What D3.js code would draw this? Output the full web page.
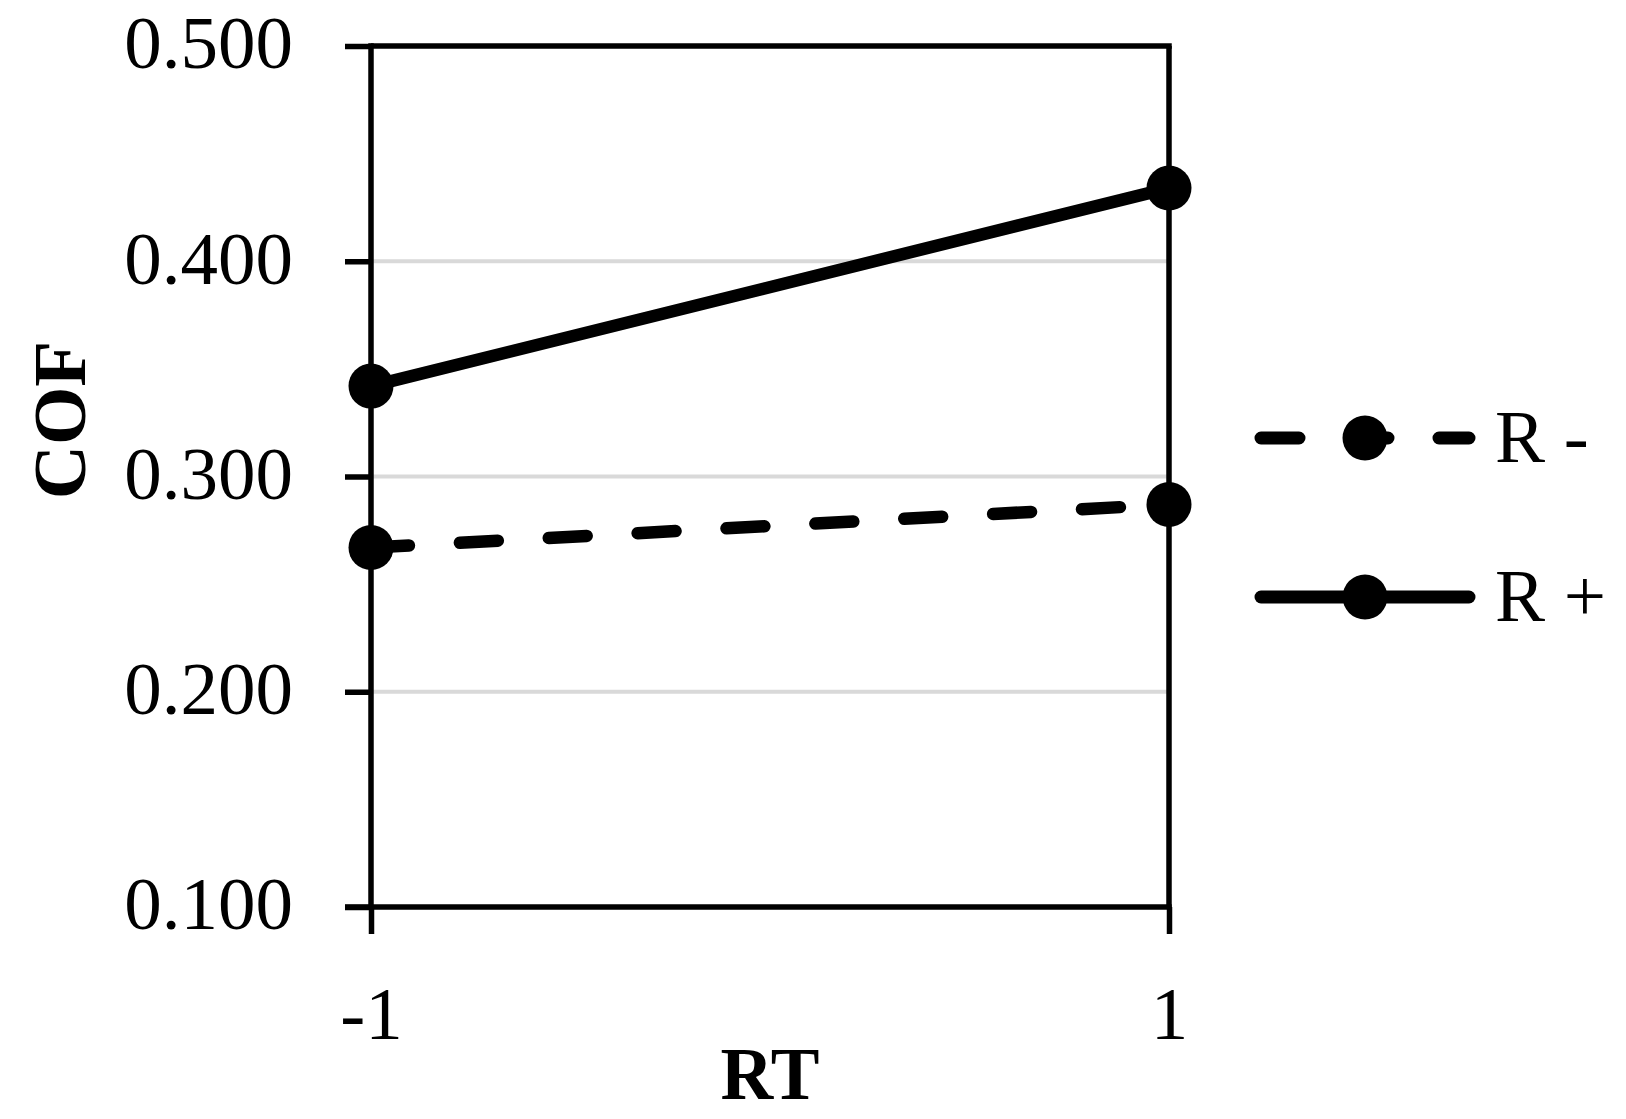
<!DOCTYPE html>
<html>
<head>
<meta charset="utf-8">
<script src="https://cdn.jsdelivr.net/npm/d3@7"></script>
<style>
  html, body { margin: 0; padding: 0; background: #fff; }
  svg { display: block; }
  text { font-family: "Liberation Serif", "Times New Roman", serif; fill: #000; }
</style>
</head>
<body>
<svg id="chart" width="1626" height="1119"></svg>
<script>
// ---- data ----
const rtValues = [-1, 1];
const xTickLabels = ["-1", "1"];
const yTicks = [0.1, 0.2, 0.3, 0.4, 0.5];
const yTickLabels = ["0.100", "0.200", "0.300", "0.400", "0.500"];
const seriesNames = ["R -", "R +"];
const rMinus = [0.267, 0.287];
const rPlus = [0.342, 0.434];

// ---- setup ----
const svg = d3.select("#chart");
const x = d3.scaleLinear().domain([-1, 1]).range([371, 1169]);
const y = d3.scaleLinear().domain([0.1, 0.5]).range([907, 46]);

const axisW = 5.5;

// gridlines
svg.append("g").selectAll("line")
  .data([0.2, 0.3, 0.4])
  .join("line")
  .attr("x1", x(-1)).attr("x2", x(1))
  .attr("y1", d => y(d)).attr("y2", d => y(d))
  .attr("stroke", "#d9d9d9").attr("stroke-width", 4);

// top border and right border
svg.append("line")
  .attr("x1", x(-1)).attr("x2", x(1) + axisW / 2)
  .attr("y1", y(0.5)).attr("y2", y(0.5))
  .attr("stroke", "#000").attr("stroke-width", axisW);
svg.append("line")
  .attr("x1", x(1)).attr("x2", x(1))
  .attr("y1", y(0.5)).attr("y2", y(0.1))
  .attr("stroke", "#000").attr("stroke-width", axisW);

// y axis
const yAxis = svg.append("g")
  .attr("transform", `translate(${x(-1)},0)`)
  .call(d3.axisLeft(y).tickValues(yTicks)
    .tickFormat((d, i) => yTickLabels[i])
    .tickSizeInner(26).tickSizeOuter(0).tickPadding(52));
yAxis.select(".domain").attr("stroke-width", axisW)
  .attr("d", `M0,${y(0.5) - axisW / 2}V${y(0.1)}`);
yAxis.selectAll(".tick line").attr("stroke-width", axisW);
yAxis.selectAll(".tick text")
  .attr("font-size", 75).attr("font-family", "Liberation Serif")
  .attr("dy", "0.29em");

// x axis
const xAxis = svg.append("g")
  .attr("transform", `translate(0,${y(0.1)})`)
  .call(d3.axisBottom(x).tickValues(rtValues)
    .tickFormat((d, i) => xTickLabels[i])
    .tickSizeInner(27).tickSizeOuter(0).tickPadding(0));
xAxis.select(".domain").attr("stroke-width", axisW)
  .attr("d", `M${x(-1) - 26},0H${x(1) + axisW / 2}`);
xAxis.selectAll(".tick line").attr("stroke-width", axisW);
xAxis.selectAll(".tick text")
  .attr("font-size", 75).attr("font-family", "Liberation Serif")
  .attr("y", 132).attr("dy", 0);

// axis titles
svg.append("text")
  .attr("x", (x(-1) + x(1)) / 2).attr("y", 1099)
  .attr("text-anchor", "middle")
  .attr("font-size", 73).attr("font-weight", "bold")
  .text("RT");
svg.append("text")
  .attr("transform", "translate(85,420) rotate(-90)")
  .attr("text-anchor", "middle")
  .attr("font-size", 75).attr("font-weight", "bold")
  .text("COF");

// series
const series = [
  { name: seriesNames[0], values: rMinus, dash: "38,51" },
  { name: seriesNames[1], values: rPlus, dash: null }
];
const line = d3.line().x(d => x(d[0])).y(d => y(d[1]));
const lineW = 12.5, markerR = 22.5;

series.forEach(s => {
  const pts = rtValues.map((v, i) => [v, s.values[i]]);
  svg.append("path")
    .attr("d", line(pts))
    .attr("fill", "none").attr("stroke", "#000")
    .attr("stroke-width", lineW).attr("stroke-linecap", "round")
    .attr("stroke-dasharray", s.dash);
  svg.append("g").selectAll("circle")
    .data(pts).join("circle")
    .attr("cx", d => x(d[0])).attr("cy", d => y(d[1]))
    .attr("r", markerR).attr("fill", "#000");
});

// legend
const legendRows = [438, 597];
series.forEach((s, i) => {
  const gy = legendRows[i];
  svg.append("path")
    .attr("d", d3.line()([[1261, gy], [1469, gy]]))
    .attr("fill", "none").attr("stroke", "#000")
    .attr("stroke-width", 13).attr("stroke-linecap", "round")
    .attr("stroke-dasharray", s.dash);
  svg.append("circle").attr("cx", 1365).attr("cy", gy).attr("r", markerR).attr("fill", "#000");
  svg.append("text")
    .attr("x", 1495).attr("y", gy + 24)
    .attr("font-size", 75)
    .attr("xml:space", "preserve")
    .text(s.name);
});
</script>
</body>
</html>
